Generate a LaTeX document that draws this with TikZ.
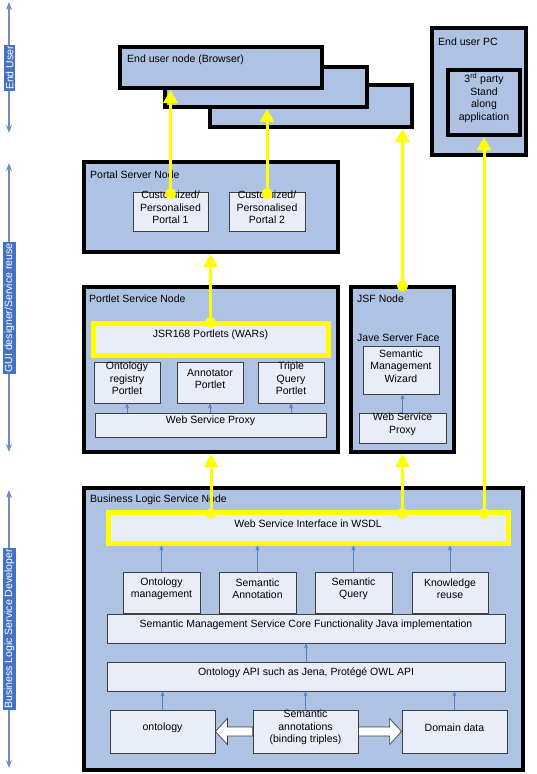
\documentclass[tikz,border=0pt]{standalone}
\usepackage{fontspec}
\setmainfont{Liberation Sans}
\usetikzlibrary{fit,calc,arrows.meta}
\definecolor{ofill}{RGB}{174,194,228}
\definecolor{ifill}{RGB}{232,237,248}
\definecolor{sblue}{RGB}{79,129,189}
\definecolor{sideblue}{RGB}{68,114,196}
\definecolor{sline}{RGB}{110,140,200}
\definecolor{yel}{RGB}{255,255,0}
\begin{document}
\begin{tikzpicture}[x=1pt,y=-1pt,
  font=\fontsize{10.5}{12.5}\selectfont,
  outer/.style={draw=black, line width=4pt, fill=ofill, inner sep=0pt},
  innerbox/.style={draw=black!75, line width=0.8pt, fill=ifill, inner sep=0pt, align=center},
  ybox/.style={draw=yel, line width=5pt, fill=ifill, inner sep=0pt},
  appbox/.style={draw=black, line width=4.5pt, fill=ofill, inner sep=0pt, align=center},
  title/.style={anchor=west, inner sep=0pt},
  yarr/.style={draw=yel, line width=3pt, -{Triangle[width=14pt,length=13pt]}},
  ydot/.style={circle, fill=yel, minimum size=11pt, inner sep=0pt},
  sarr/.style={draw=sblue, line width=0.8pt, -{Stealth[width=4pt,length=5pt]}},
  side/.style={draw=sline, line width=1.2pt, {Stealth[width=6pt,length=8pt]}-{Stealth[width=6pt,length=8pt]}},
  sidelabel/.style={fill=sideblue, text=white, rotate=90, inner sep=1.5pt},
  hollow/.style={draw=black!75, line width=0.7pt, fill=white}
]
\useasboundingbox (0,0) rectangle (537,774);

% side axis
\coordinate (eut) at (9,2);   \coordinate (eub) at (9,133);
\coordinate (gut) at (9,163); \coordinate (gub) at (9,452);
\coordinate (blt) at (9,490); \coordinate (blb) at (9,768);
\draw[side] (eut) -- (eub);
\draw[side] (gut) -- (gub);
\draw[side] (blt) -- (blb);
\node[sidelabel] (leu) at (9.5,68) {End User};
\node[sidelabel] (lgu) at (9.5,308) {GUI designer/Service reuse};
\node[sidelabel] (lbl) at (9.5,629) {Business Logic Service Developer};

% browser stack
\node[outer, fit={(210,85) (412,127)}] (b3) {};
\node[outer, fit={(165,67) (367,107)}] (b2) {};
\node[outer, fit={(120,47) (322,88)}] (b1) {};
\node[title] (tb1) at (127,60) {End user node (Browser)};

% end user PC
\node[outer, fit={(432,28) (526,155)}] (pc) {};
\node[title] (tpc) at (438,42) {End user PC};
\node[appbox, fit={(448,70) (520,135)}] (app) {3\textsuperscript{rd} party\\Stand\\along\\application};

% portal server
\node[outer, fit={(84,162) (338,252)}] (ps) {};
\node[title] (tps) at (90,175) {Portal Server Node};
\node[innerbox, fit={(133,192) (208,231)}] (p1) {Customized/\\Personalised\\Portal 1};
\node[innerbox, fit={(229,192) (305,231)}] (p2) {Customized/\\Personalised\\Portal 2};

% portlet service
\node[outer, fit={(84,287) (338,452)}] (pl) {};
\node[title] (tpl) at (89,299) {Portlet Service Node};
\node[ybox, fit={(93,323) (328,355)}] (jsr) {JSR168 Portlets (WARs)};
\node[innerbox, fit={(94,362) (160,403)}] (orp) {Ontology\\registry\\Portlet};
\node[innerbox, fit={(177,362) (243,403)}] (anp) {Annotator\\Portlet};
\node[innerbox, fit={(258,362) (324,403)}] (tqp) {Triple\\Query\\Portlet};
\node[innerbox, fit={(95,413) (326,437)}] (wsp) {Web Service Proxy};
\draw[sarr] (orp.south |- wsp.north) -- (orp.south);
\draw[sarr] (anp.south |- wsp.north) -- (anp.south);
\draw[sarr] (tqp.south |- wsp.north) -- (tqp.south);

% JSF node
\node[outer, fit={(351,287) (454,452)}] (jsf) {};
\node[title] (tjsf) at (357,299) {JSF Node};
\node[title] (tjsv) at (357,338) {Jave Server Face};
\node[innerbox, fit={(363,346) (439,394)}] (wiz) {Semantic\\Management\\Wizard};
\node[innerbox, fit={(359,413) (446,443)}] (jwsp) {Web Service\\Proxy};
\draw[sarr] (jwsp.north) -- (jwsp.north |- wiz.south);

% business logic
\node[outer, fit={(84,488) (523,770)}] (bl) {};
\node[title] (tbl) at (90,500) {Business Logic Service Node};
\node[ybox, fit={(108,512) (508,543)}] (wsdl) {Web Service Interface in WSDL};
\node[innerbox, fit={(123,572) (200,613)}] (om) {Ontology\\management};
\node[innerbox, fit={(219,572) (296,613)}] (sa) {Semantic\\Annotation};
\node[innerbox, fit={(315,572) (392,613)}] (sq) {Semantic\\Query};
\node[innerbox, fit={(412,572) (488,613)}] (kr) {Knowledge\\reuse};
\node[innerbox, fit={(107,614) (505,643)}] (core) {Semantic Management Service Core Functionality Java implementation};
\node[innerbox, fit={(107,662) (505,691)}] (api) {Ontology API such as Jena, Protégé OWL API};
\node[innerbox, fit={(110,710) (215,753)}] (onto) {ontology};
\node[innerbox, fit={(253,710) (358,753)}] (sann) {Semantic\\annotations\\(binding triples)};
\node[innerbox, fit={(402,710) (507,753)}] (dom) {Domain data};
\foreach \b in {om,sa,sq,kr}{\draw[sarr] (\b.north) -- (\b.north |- wsdl.south);}
\draw[sarr] (api.north) -- (api.north |- core.south);
\foreach \b in {onto,sann,dom}{\draw[sarr] (\b.north) -- (\b.north |- api.south);}
\draw[hollow] (onto.east) -- ++(12,-13) -- ++(0,8.5) -- ([yshift=4.5pt]sann.west) -- ([yshift=-4.5pt]sann.west)
  -- ([xshift=12pt,yshift=-4.5pt]onto.east) -- ([xshift=12pt,yshift=-13pt]onto.east) -- cycle;
\draw[hollow] (dom.west) -- ([xshift=-12pt,yshift=13pt]dom.west) -- ([xshift=-12pt,yshift=4.5pt]dom.west)
  -- ([yshift=4.5pt]sann.east) -- ([yshift=-4.5pt]sann.east) -- ([xshift=-12pt,yshift=-4.5pt]dom.west)
  -- ([xshift=-12pt,yshift=-13pt]dom.west) -- cycle;

% yellow connectors
\node[ydot] (d1) at ([yshift=-2pt]p1.north) {};
\node[ydot] (d2) at ([yshift=-2pt]p2.north) {};
\node[ydot] (dj) at ([yshift=-2pt]jsr.north) {};
\node[ydot] (df) at ([yshift=-1pt]jsf.north) {};
\node[ydot] (dw1) at ([yshift=-4pt]pl.south |- wsdl.north) {};
\node[ydot] (dw2) at ([yshift=-4pt]jsf.south |- wsdl.north) {};
\node[ydot] (dw3) at ([yshift=-4pt]app.south |- wsdl.north) {};
\draw[yarr] (d1.center) -- (d1.center |- b1.south);
\draw[yarr] (d2.center) -- (d2.center |- b2.south);
\draw[yarr] (dj.center) -- (dj.center |- ps.south);
\draw[yarr] (df.center) -- (df.center |- b3.south);
\draw[yarr] (dw1.center) -- (dw1.center |- pl.south);
\draw[yarr] (dw2.center) -- (dw2.center |- jsf.south);
\draw[yarr] (dw3.center) -- (dw3.center |- app.south);
\end{tikzpicture}
\end{document}
